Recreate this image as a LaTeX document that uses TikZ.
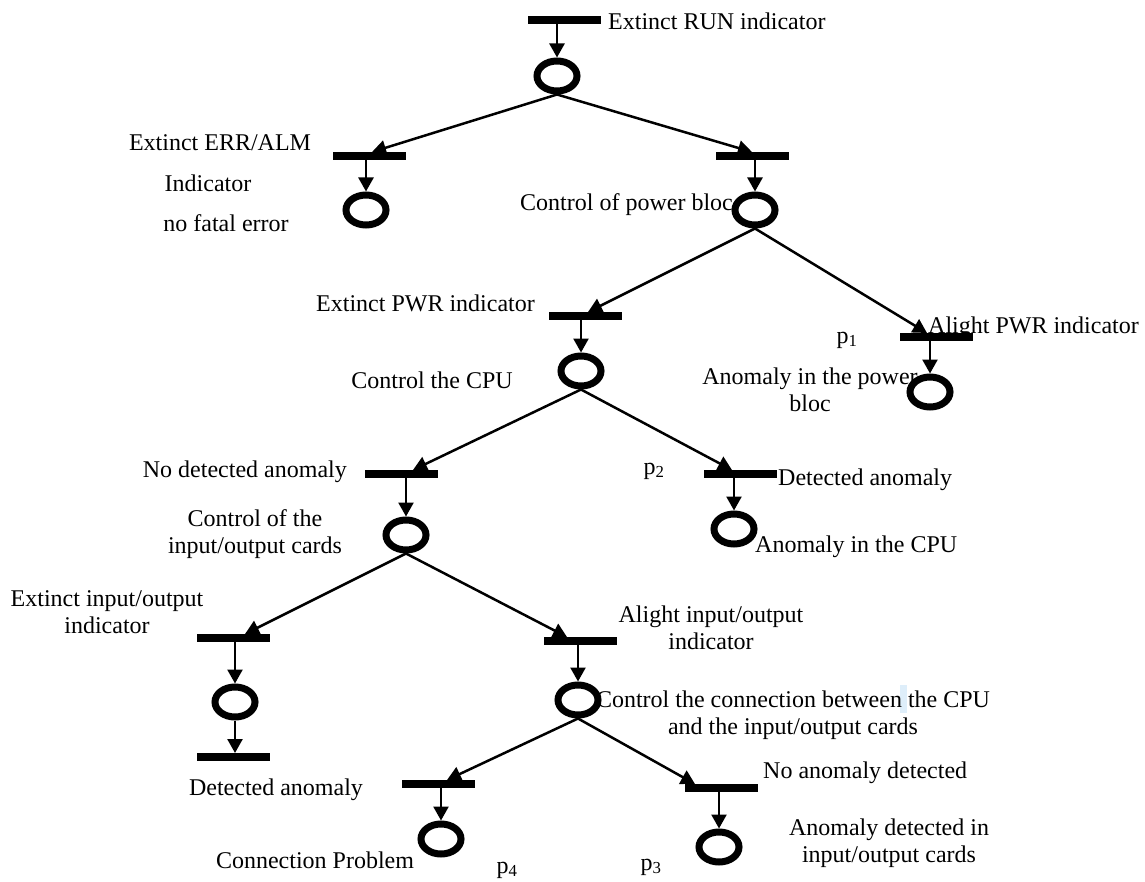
\documentclass[tikz,border=0pt]{standalone}
\usepackage{fontspec}
\setmainfont{Liberation Serif}
\usetikzlibrary{arrows.meta,shapes.geometric}
\begin{document}
\begin{tikzpicture}[x=1pt,y=-1pt,
 bar/.style={rectangle,fill=black,minimum width=73pt,minimum height=8pt,inner sep=0pt,outer sep=0pt},
 place/.style={ellipse,draw=black,line width=7pt,fill=white,minimum width=40pt,minimum height=30pt,inner sep=0pt,outer sep=3.5pt},
 arr/.style={line width=2.5pt,-{Triangle[length=14pt,width=15pt]}},
 lbl/.style={font=\fontsize{24}{27}\selectfont,inner sep=0pt,align=center}]
\useasboundingbox (0,0) rectangle (1145,882);
% labels
\node[lbl,anchor=west] (l0) at (608,21) {Extinct RUN indicator};
\node[lbl] (l1a) at (220,143) {Extinct ERR/ALM};
\node[lbl] (l1b) at (208,183) {Indicator};
\node[lbl] (l1c) at (226,223) {no fatal error};
\node[lbl,anchor=west] (l2) at (520,205) {Control of power bloc};
\node[lbl,anchor=east] (l3) at (535,303) {Extinct PWR indicator};
\node[lbl] (l4) at (432,380) {Control the CPU};
\node[lbl] (lp1) at (847,340) {p\textsubscript{1}};
\node[lbl,anchor=west] (l5) at (928,328) {Alight PWR indicator};
\node[lbl] (l6) at (810,390) {Anomaly in the power\\bloc};
\node[lbl,anchor=east] (l7) at (347,472) {No detected anomaly};
\node[lbl] (l8) at (255,534) {Control of the\\input/output cards};
\node[lbl] (lp2) at (654,471) {p\textsubscript{2}};
\node[lbl,anchor=west] (l9) at (778,480) {Detected anomaly};
\node[lbl,anchor=west] (l10) at (755,547) {Anomaly in the CPU};
\node[lbl] (l11) at (107,612) {Extinct input/output\\indicator};
\node[lbl] (l12) at (711,628) {Alight input/output\\indicator};
\fill[fill={rgb,255:red,222;green,238;blue,250}] (900,685) rectangle (907,713);
\node[lbl] (l13) at (793,715) {Control the connection between the CPU\\and the input/output cards};
\node[lbl] (l14) at (276,790) {Detected anomaly};
\node[lbl] (l15) at (315,860) {Connection Problem};
\node[lbl] (lp4) at (507,870) {p\textsubscript{4}};
\node[lbl] (lp3) at (651,867) {p\textsubscript{3}};
\node[lbl,anchor=west] (l16) at (763,773) {No anomaly detected};
\node[lbl] (l17) at (889,843) {Anomaly detected in\\input/output cards};
% transitions and places
\node[bar] (T0) at (564,20) {};
\node[place] (P0) at (557,76) {};
\node[bar] (T1) at (369,156) {};
\node[place] (P1) at (366,210) {};
\node[bar] (T2) at (752,156) {};
\node[place] (P2) at (755,210) {};
\node[bar] (T3) at (585,316) {};
\node[place] (P3) at (581,371) {};
\node[bar] (T4) at (936,337) {};
\node[place] (P4) at (930,392) {};
\node[bar] (T5) at (401,474) {};
\node[place] (P5) at (406,535) {};
\node[bar] (T6) at (740,474) {};
\node[place] (P6) at (734,529) {};
\node[bar] (T7) at (233,638) {};
\node[place] (P7) at (235,702) {};
\node[bar] (T7b) at (233,757) {};
\node[bar] (T8) at (580,641) {};
\node[place] (P8) at (578,700) {};
\node[bar] (T9) at (438,784) {};
\node[place] (P9) at (441,839) {};
\node[bar] (T10) at (721,788) {};
\node[place] (P10) at (719,847) {};
% vertical arcs
\draw[arr] (P0.north |- T0.south) -- (P0.north);
\draw[arr] (P1.north |- T1.south) -- (P1.north);
\draw[arr] (P2.north |- T2.south) -- (P2.north);
\draw[arr] (P3.north |- T3.south) -- (P3.north);
\draw[arr] (P4.north |- T4.south) -- (P4.north);
\draw[arr] (P5.north |- T5.south) -- (P5.north);
\draw[arr] (P6.north |- T6.south) -- (P6.north);
\draw[arr] (P7.north |- T7.south) -- (P7.north);
\draw[arr] (P7.south) -- (P7.south |- T7b.north);
\draw[arr] (P8.north |- T8.south) -- (P8.north);
\draw[arr] (P9.north |- T9.south) -- (P9.north);
\draw[arr] (P10.north |- T10.south) -- (P10.north);
% diagonal arcs
\draw[arr] (P0.south) -- ([xshift=3pt]T1.north);
\draw[arr] (P0.south) -- (T2.north);
\draw[arr] (P2.south) -- ([xshift=3pt]T3.north);
\draw[arr] (P2.south) -- ([xshift=-9pt]T4.north);
\draw[arr] (P3.south) -- ([xshift=12pt]T5.north);
\draw[arr] (P3.south) -- ([xshift=-8pt]T6.north);
\draw[arr] (P5.south) -- ([xshift=12pt]T7.north);
\draw[arr] (P5.south) -- ([xshift=-13pt]T8.north);
\draw[arr] (P8.south) -- ([xshift=9pt]T9.north);
\draw[arr] (P8.south) -- ([xshift=-26pt]T10.north);
\end{tikzpicture}
\end{document}
